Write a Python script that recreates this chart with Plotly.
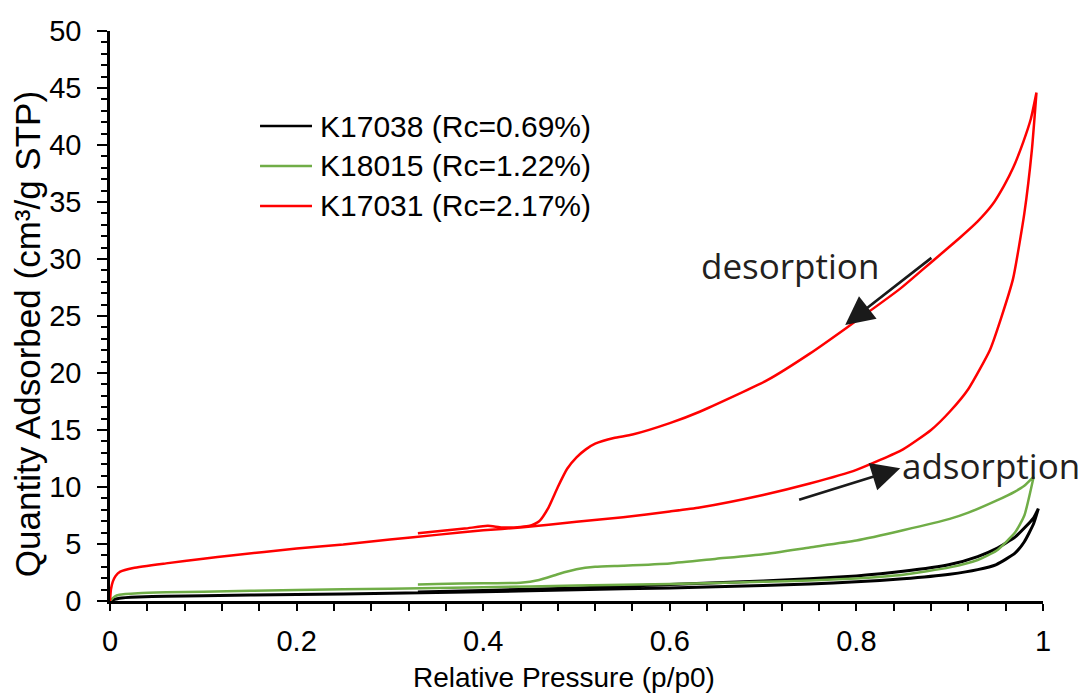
import plotly.graph_objects as go

# ---- data ----
k17038_ads_p = [0, 0.005, 0.01, 0.03, 0.06, 0.1, 0.2, 0.3, 0.4, 0.5, 0.6, 0.7, 0.75, 0.8, 0.85, 0.9, 0.93, 0.95, 0.97, 0.98, 0.99, 0.995]
k17038_ads_q = [0, 0.15, 0.25, 0.35, 0.42, 0.47, 0.56, 0.68, 0.82, 0.98, 1.15, 1.35, 1.5, 1.68, 1.95, 2.35, 2.75, 3.2, 4.2, 5.2, 6.8, 8.1]
k17038_des_p = [0.995, 0.99, 0.98, 0.97, 0.95, 0.93, 0.9, 0.85, 0.8, 0.7, 0.6, 0.5, 0.4, 0.33]
k17038_des_q = [8.1, 7.3, 6.4, 5.6, 4.6, 3.9, 3.2, 2.6, 2.2, 1.75, 1.45, 1.15, 0.92, 0.8]

k18015_ads_p = [0, 0.005, 0.01, 0.03, 0.06, 0.1, 0.2, 0.3, 0.4, 0.5, 0.6, 0.7, 0.75, 0.8, 0.85, 0.9, 0.93, 0.95, 0.97, 0.98, 0.99]
k18015_ads_q = [0, 0.4, 0.55, 0.68, 0.76, 0.82, 0.96, 1.08, 1.2, 1.35, 1.5, 1.68, 1.8, 1.98, 2.3, 2.95, 3.6, 4.4, 6.0, 7.5, 10.9]
k18015_des_p = [0.99, 0.98, 0.97, 0.95, 0.92, 0.9, 0.85, 0.8, 0.75, 0.7, 0.65, 0.6, 0.55, 0.52, 0.5, 0.48, 0.46, 0.44, 0.4, 0.35, 0.33]
k18015_des_q = [10.9, 10.1, 9.6, 8.8, 7.75, 7.2, 6.2, 5.3, 4.7, 4.1, 3.7, 3.3, 3.1, 3.0, 2.78, 2.35, 1.85, 1.6, 1.55, 1.5, 1.45]

k17031_ads_p = [0, 0.001, 0.003, 0.006, 0.011, 0.025, 0.06, 0.1, 0.13, 0.2, 0.25, 0.3, 0.35, 0.4, 0.44, 0.5, 0.55, 0.6, 0.632, 0.7, 0.75, 0.8, 0.85, 0.88, 0.9, 0.92, 0.943, 0.955, 0.968, 0.98, 0.988, 0.993]
k17031_ads_q = [0, 1.0, 1.7, 2.2, 2.57, 2.9, 3.3, 3.7, 4.0, 4.6, 4.95, 5.4, 5.8, 6.2, 6.45, 6.95, 7.35, 7.85, 8.2, 9.3, 10.3, 11.5, 13.3, 15.0, 16.6, 18.6, 22.0, 24.8, 28.3, 34.0, 39.5, 44.6]
k17031_des_p = [0.993, 0.987, 0.979, 0.968, 0.958, 0.946, 0.93, 0.91, 0.89, 0.87, 0.847, 0.79, 0.75, 0.704, 0.632, 0.6, 0.56, 0.54, 0.52, 0.51, 0.5, 0.49, 0.48, 0.47, 0.46, 0.45, 0.44, 0.42, 0.405, 0.38, 0.33]
k17031_des_q = [44.6, 42.3, 40.3, 38.0, 36.4, 34.8, 33.3, 31.8, 30.4, 29.0, 27.4, 24.0, 21.7, 19.35, 16.6, 15.6, 14.6, 14.3, 13.8, 13.3, 12.6, 11.6, 10.0, 8.2, 7.0, 6.6, 6.5, 6.45, 6.6, 6.35, 5.95]

series_names = ["K17038 (Rc=0.69%)", "K18015 (Rc=1.22%)", "K17031 (Rc=2.17%)"]
series_colors = ["#000000", "#70AD47", "#FF0000"]
series_widths = [3, 2.5, 2.5]

x_ticks = [0, 0.2, 0.4, 0.6, 0.8, 1]
x_tick_labels = ["0", "0.2", "0.4", "0.6", "0.8", "1"]
y_ticks = [0, 5, 10, 15, 20, 25, 30, 35, 40, 45, 50]

series_p = [k17038_ads_p + k17038_des_p, k18015_ads_p + k18015_des_p, k17031_ads_p + k17031_des_p]
series_q = [k17038_ads_q + k17038_des_q, k18015_ads_q + k18015_des_q, k17031_ads_q + k17031_des_q]

fig = go.Figure()
for i, (name, color) in enumerate(zip(series_names, series_colors)):
    fig.add_trace(go.Scatter(
        x=series_p[i], y=series_q[i], mode="lines", name=name, showlegend=False,
        line=dict(color=color, width=series_widths[i], shape="spline", smoothing=0.5),
    ))

base_font = "Liberation Sans, Arial, sans-serif"

# legend drawn as line samples + real text, positioned in paper coordinates
legend_rows_y = [0.8333, 0.7632, 0.6930]
for name, color, ry in zip(series_names, series_colors, legend_rows_y):
    fig.add_shape(type="line", xref="paper", yref="paper", x0=0.1608, x1=0.2165, y0=ry, y1=ry,
                  line=dict(color=color, width=2.5))
    fig.add_annotation(x=0.2229, y=ry, xref="paper", yref="paper", xanchor="left", yanchor="middle",
                       text=name, showarrow=False, font=dict(family=base_font, size=30, color="#000000"))

# axis titles as text placed like the reference
fig.add_annotation(x=-0.089, y=0.468, xref="paper", yref="paper", xanchor="center", yanchor="middle",
                   text="Quantity Adsorbed (cm³/g STP)", textangle=-90, showarrow=False,
                   font=dict(family=base_font, size=35, color="#000000"))
fig.add_annotation(x=0.4866, y=-0.134, xref="paper", yref="paper", xanchor="center", yanchor="middle",
                   text="Relative Pressure (p/p0)", showarrow=False,
                   font=dict(family=base_font, size=28, color="#000000"))

fig.update_layout(
    width=1081, height=697,
    margin=dict(l=110, r=38, t=31, b=96),
    paper_bgcolor="white", plot_bgcolor="white",
    font=dict(family=base_font, size=28, color="#000000"),
    showlegend=False,
    xaxis=dict(
        range=[0, 1], tickvals=x_ticks, ticktext=x_tick_labels, automargin=False,
        showgrid=False, zeroline=False,
        showline=True, linecolor="#000000", linewidth=2.5,
        ticks="outside", ticklen=7, tickwidth=2, tickcolor="#000000",
        minor=dict(dtick=0.04, ticks="outside", ticklen=7, tickwidth=2, tickcolor="#000000"),
        tickfont=dict(size=29), ticklabelstandoff=5,
    ),
    yaxis=dict(
        range=[0, 50], tickvals=y_ticks, automargin=False,
        showgrid=False, zeroline=False,
        showline=True, linecolor="#000000", linewidth=2.5,
        ticks="outside", ticklen=10, tickwidth=2, tickcolor="#000000",
        minor=dict(dtick=1, ticks="outside", ticklen=6, tickwidth=2, tickcolor="#000000"),
        tickfont=dict(size=29), ticklabelstandoff=10,
    ),
)

ann_font = dict(family="Open Sans, Noto Sans, sans-serif", size=35, color="#231F20")
# desorption arrow and label
fig.add_annotation(x=0.788, y=24.2, ax=0.882, ay=30.2, xref="x", yref="y", axref="x", ayref="y",
                   text="", showarrow=True, arrowhead=2, arrowsize=2.2, arrowwidth=2.6, arrowcolor="#1a1a1a")
fig.add_annotation(x=0.729, y=29.4, xref="x", yref="y", text="desorption", showarrow=False, font=ann_font)
# adsorption arrow and label
fig.add_annotation(x=0.847, y=11.65, ax=0.737, ay=8.84, xref="x", yref="y", axref="x", ayref="y",
                   text="", showarrow=True, arrowhead=2, arrowsize=2.2, arrowwidth=2.6, arrowcolor="#1a1a1a")
fig.add_annotation(x=0.944, y=11.9, xref="x", yref="y", text="adsorption", showarrow=False, font=ann_font)

fig.write_html("out.html", config={"displayModeBar": False},
               post_script="document.body.style.margin='0';")
